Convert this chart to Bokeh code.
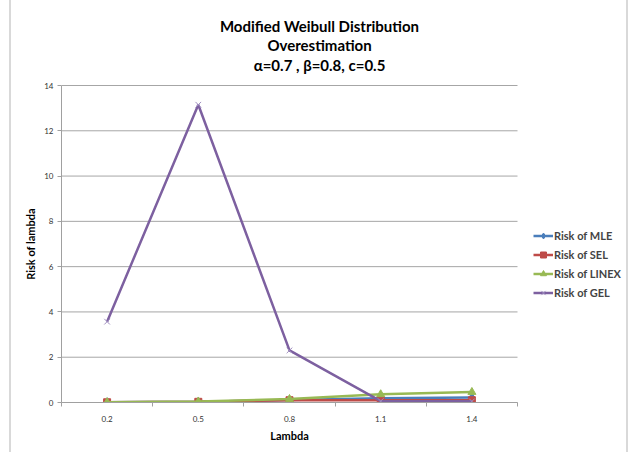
from bokeh.plotting import figure
from bokeh.models import (FixedTicker, Legend, LegendItem, Label, Range1d,
                          InlineStyleSheet, LinearAxis)
from bokeh.embed import file_html
from bokeh.resources import INLINE

categories = ["0.2", "0.5", "0.8", "1.1", "1.4"]
risk_mle = [0.01, 0.03, 0.11, 0.19, 0.22]
risk_sel = [0.01, 0.03, 0.10, 0.10, 0.10]
risk_linex = [0.01, 0.04, 0.15, 0.36, 0.46]
risk_gel = [3.57, 13.15, 2.30, 0.06, 0.05]
y_ticks = [0, 2, 4, 6, 8, 10, 12, 14]
title_lines = ["Modified Weibull Distribution", "Overestimation", "\u03b1=0.7 , \u03b2=0.8, c=0.5"]
x_title = "Lambda"
y_title = "Risk of lambda"

n = len(categories)
xs = [i + 0.5 for i in range(n)]
FONT = "Lato"

# plot area 61..517 x 85..402 px; frame extended to hold title and legend
W, H = 633, 452
left, bottom = 61, 50
px_x = (517 - 61) / n
px_y = (402 - 85) / y_ticks[-1]
x_end = (W - left) / px_x
y_end = (H - bottom) / px_y

p = figure(width=W, height=H, output_backend="svg", toolbar_location=None,
           title=None,
           x_range=Range1d(0, x_end), y_range=Range1d(0, y_end),
           min_border_left=left, min_border_right=0, min_border_top=0,
           min_border_bottom=bottom, outline_line_color=None)
p.background_fill_color = "white"
p.border_fill_color = "white"

# outer chart frame (left/right edges visible in the reference)
p.stylesheets = [InlineStyleSheet(css=(
    ":host { position: relative; }"
    ":host::after { content: ''; position: absolute; left: 9px; top: 0px;"
    " width: 619px; height: 452px; box-sizing: border-box;"
    " border-left: 2px solid #d9d9d9; border-right: 2px solid #d9d9d9;"
    " pointer-events: none; z-index: 10; }"))]

# axes
p.xaxis.bounds = (0, n)
p.xaxis.ticker = FixedTicker(ticks=xs, minor_ticks=list(range(n + 1)))
p.xaxis.major_label_overrides = {x: c for x, c in zip(xs, categories)}
p.xaxis.major_tick_out = 0
p.xaxis.major_tick_in = 0
p.xaxis.minor_tick_out = 4
p.xaxis.minor_tick_in = 0
p.xaxis.minor_tick_line_color = "#a0a0a0"
p.xaxis.axis_line_color = "#a0a0a0"
p.xaxis.major_label_standoff = 9

p.yaxis.bounds = (0, y_ticks[-1])
p.yaxis.ticker = FixedTicker(ticks=y_ticks, minor_ticks=[])
p.yaxis.major_tick_out = 4
p.yaxis.major_tick_in = 0
p.yaxis.major_tick_line_color = "#a0a0a0"
p.yaxis.axis_line_color = "#a0a0a0"
p.yaxis.major_label_standoff = 4

for ax in (p.xaxis[0], p.yaxis[0]):
    ax.major_label_text_font = FONT
    ax.major_label_text_font_size = "8px"
    ax.major_label_text_color = "#333333"

# axis titles, centred on the plot area (not on the extended frame)
x_mid = n / 2
y_mid = y_ticks[-1] / 2
xt_axis = LinearAxis(ticker=FixedTicker(ticks=[x_mid], minor_ticks=[]),
                     major_label_overrides={x_mid: x_title},
                     axis_line_color=None, major_tick_line_color=None,
                     minor_tick_line_color=None, major_tick_out=0, major_tick_in=0,
                     major_label_standoff=4,
                     major_label_text_font=FONT, major_label_text_font_size="11px",
                     major_label_text_font_style="bold", major_label_text_color="#000000")
p.add_layout(xt_axis, "below")
yt_axis = LinearAxis(ticker=FixedTicker(ticks=[y_mid], minor_ticks=[]),
                     major_label_overrides={y_mid: y_title},
                     major_label_orientation="vertical",
                     axis_line_color=None, major_tick_line_color=None,
                     minor_tick_line_color=None, major_tick_out=0, major_tick_in=0,
                     major_label_standoff=5,
                     major_label_text_font=FONT, major_label_text_font_size="11px",
                     major_label_text_font_style="bold", major_label_text_color="#000000")
p.add_layout(yt_axis, "left")

p.xgrid.grid_line_color = None
p.ygrid.grid_line_color = None
# horizontal gridlines limited to the plot area
p.segment(x0=[0] * len(y_ticks), x1=[n] * len(y_ticks), y0=y_ticks, y1=y_ticks,
          line_color="#a6a6a6", line_width=1)

# series
c_mle, c_sel, c_linex, c_gel = "#4a7ebb", "#be4b48", "#98b954", "#7d60a0"
l1 = p.line(xs, risk_mle, line_color=c_mle, line_width=2.5)
m1 = p.scatter(xs, risk_mle, marker="diamond", size=9, fill_color=c_mle, line_color=c_mle)
l2 = p.line(xs, risk_sel, line_color=c_sel, line_width=2.5)
m2 = p.scatter(xs, risk_sel, marker="square", size=7, fill_color=c_sel, line_color=c_sel)
l3 = p.line(xs, risk_linex, line_color=c_linex, line_width=2.5)
m3 = p.scatter(xs, risk_linex, marker="triangle", size=8, fill_color=c_linex, line_color=c_linex)
l4 = p.line(xs, risk_gel, line_color=c_gel, line_width=2.5)
m4 = p.scatter(xs, risk_gel, marker="x", size=8, line_color="#a08fc0", line_width=1)

legend = Legend(items=[
    LegendItem(label="Risk of MLE", renderers=[l1, m1]),
    LegendItem(label="Risk of SEL", renderers=[l2, m2]),
    LegendItem(label="Risk of LINEX", renderers=[l3, m3]),
    LegendItem(label="Risk of GEL", renderers=[l4, m4]),
], location=(472, 102), orientation="vertical")
legend.label_text_font = FONT
legend.label_text_font_size = "11px"
legend.label_text_font_style = "bold"
legend.glyph_width = 20
legend.glyph_height = 15
legend.spacing = 4
legend.label_standoff = 1
legend.padding = 0
legend.margin = 0
legend.border_line_color = None
legend.background_fill_alpha = 0
p.add_layout(legend, "center")

# three-line title
for i, t in enumerate(title_lines):
    p.add_layout(Label(x=258, y=(H - bottom) - 25 - 19.5 * i,
                       x_units="screen", y_units="screen",
                       text=t, text_align="center", text_baseline="middle",
                       text_font=FONT, text_font_size="15px", text_font_style="bold",
                       text_color="#000000"))

open("out.html", "w").write(file_html(p, INLINE))
